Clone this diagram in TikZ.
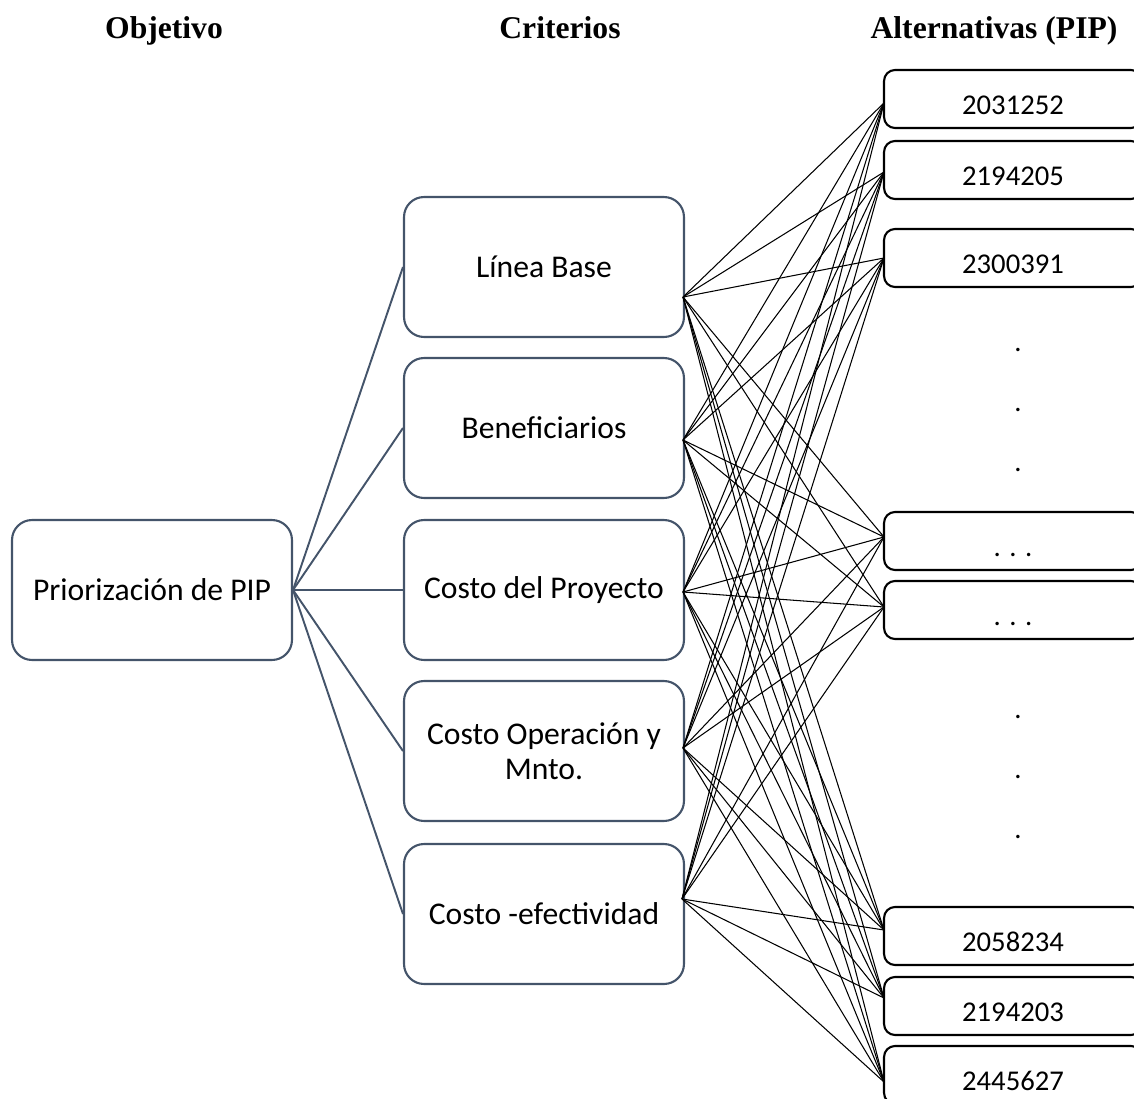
\documentclass[tikz,border=0pt]{standalone}
\usepackage{fontspec}
\setmainfont{Carlito}
\newfontfamily\headfont{Liberation Serif}
\usepackage{xcolor}
\usetikzlibrary{calc,positioning}
\definecolor{boxgray}{HTML}{44546A}
\tikzset{
  critbox/.style={draw=boxgray, line width=1.2pt, rounded corners=0.4cm, fill=white,
    minimum width=5.6cm, minimum height=2.8cm, align=center,
    font=\fontsize{18}{20}\selectfont},
  altbox/.style={draw=black, line width=1.2pt, rounded corners=0.22cm, fill=white,
    minimum width=5.16cm, minimum height=1.16cm, text height=0.62cm, text depth=0pt,
    font=\fontsize{16.3}{18}\selectfont},
  head/.style={anchor=base, font=\headfont\bfseries\fontsize{18}{20}\selectfont},
  gdot/.style={font=\fontsize{16.3}{18}\selectfont, inner sep=0pt},
  objline/.style={draw=boxgray, line width=1.1pt},
  altline/.style={draw=black, line width=0.6pt}
}

\begin{document}
\begin{tikzpicture}[x=0.02cm, y=-0.02cm]
\useasboundingbox (0,0) rectangle (1134,1099);
\clip (0,0) rectangle (1134,1099);

% titulos
\node[head] (hobj) at (164,38) {Objetivo};
\node[head] (hcrit) at (560,38) {Criterios};
\node[head] (halt) at (994,38) {Alternativas (PIP)};

% objetivo y criterios
\node[critbox] (obj) at (152,590) {Priorización de PIP};
\node[critbox] (c1) at (544,267) {Línea Base};
\node[critbox] (c2) at (544,428) {Beneficiarios};
\node[critbox] (c3) at (544,590) {Costo del Proyecto};
\node[critbox] (c4) at (544,751) {Costo Operación y\\Mnto.};
\node[critbox] (c5) at (544,914) {Costo -efectividad};

% alternativas
\node[altbox] (a1) at (1013,99) {2031252};
\node[altbox] (a2) at (1013,170) {2194205};
\node[altbox] (a3) at (1013,258) {2300391};
\node[altbox] (a4) at (1013,541) {. . .};
\node[altbox] (a5) at (1013,610) {. . .};
\node[altbox] (a6) at (1013,936) {2058234};
\node[altbox] (a7) at (1013,1006) {2194203};
\node[altbox] (a8) at (1013,1075) {2445627};

\node[gdot] (d1) at (1018,350) {.};
\node[gdot] (d2) at (1018,410) {.};
\node[gdot] (d3) at (1018,470) {.};
\node[gdot] (d4) at (1018,717) {.};
\node[gdot] (d5) at (1018,777) {.};
\node[gdot] (d6) at (1018,837) {.};

% puntos de union
\coordinate (p1) at (683,297);
\coordinate (p2) at (683,440);
\coordinate (p3) at (683,592);
\coordinate (p4) at (683,748);
\coordinate (p5) at (682,899);
\coordinate (q1) at (884,103);
\coordinate (q2) at (884,172);
\coordinate (q3) at (884,258);
\coordinate (q4) at (884,537);
\coordinate (q5) at (884,607);
\coordinate (q6) at (884,930);
\coordinate (q7) at (884,998);
\coordinate (q8) at (884,1082);

\foreach \c in {1,...,5}
  \draw[objline] (obj.east) -- (c\c.west);
\foreach \c in {1,...,5}
  \foreach \a in {1,...,8}
    \draw[altline] (p\c) -- (q\a);
\end{tikzpicture}
\end{document}
